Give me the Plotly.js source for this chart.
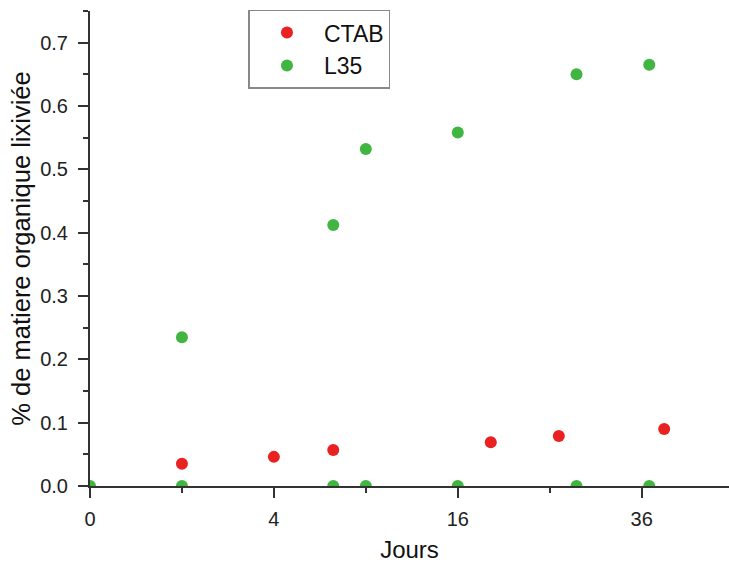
<!DOCTYPE html>
<html>
<head>
<meta charset="utf-8">
<script src="https://cdn.plot.ly/plotly-3.0.1.min.js"></script>
<style>html,body{margin:0;padding:0;background:#fff;}#chart{width:729px;height:563px;}</style>
</head>
<body>
<div id="chart"></div>
<script>
// Data (days, % leached organic matter)
const ctabDays = [1, 4, 7, 19, 26, 39];
const ctabValues = [0.035, 0.046, 0.057, 0.069, 0.079, 0.090];
const l35Days = [0, 1, 1, 7, 7, 9, 9, 16, 16, 28, 28, 37, 37];
const l35Values = [0, 0, 0.235, 0, 0.412, 0, 0.532, 0, 0.558, 0, 0.650, 0, 0.665];
const xTickDays = [0, 4, 16, 36];
const xMinorDays = [1, 9, 25];

// square-root day scale for the x axis
const sq = d => Math.sqrt(d);

const font = "Liberation Sans, Arial, sans-serif";
const traces = [
  {x: ctabDays.map(sq), y: ctabValues, name: 'CTAB', type: 'scatter', mode: 'markers',
   marker: {color: '#ea2121', size: 12}},
  {x: l35Days.map(sq), y: l35Values, name: 'L35', type: 'scatter', mode: 'markers',
   marker: {color: '#41b541', size: 12}}
];
const layout = {
  width: 729, height: 563,
  margin: {l: 90, r: 0, t: 11, b: 77},
  paper_bgcolor: '#fff', plot_bgcolor: '#fff',
  font: {family: font, size: 20, color: '#222'},
  showlegend: true,
  legend: {x: 0.248, y: 1.003, xanchor: 'left', yanchor: 'top', bgcolor: '#fff',
           bordercolor: '#888', borderwidth: 1.5, itemwidth: 64,
           font: {family: font, size: 23, color: '#111'}},
  xaxis: {range: [0, 6.95], showgrid: false, zeroline: false, showline: true,
          linecolor: '#333', linewidth: 2, ticks: 'outside', ticklen: 10, tickwidth: 2,
          tickcolor: '#333', tickmode: 'array', tickvals: xTickDays.map(sq),
          ticktext: xTickDays.map(String), ticklabelstandoff: 4,
          minor: {tickvals: xMinorDays.map(sq), ticks: 'outside', ticklen: 5, tickwidth: 2, tickcolor: '#333'},
          title: {text: 'Jours', font: {size: 24, color: '#111'}, standoff: 12}},
  yaxis: {range: [0, 0.75], showgrid: false, zeroline: false, showline: true,
          linecolor: '#333', linewidth: 2, ticks: 'outside', ticklen: 10, tickwidth: 2,
          tickcolor: '#333', dtick: 0.1, tick0: 0, tickformat: '.1f', ticklabelstandoff: 6,
          minor: {dtick: 0.05, tick0: 0, ticks: 'outside', ticklen: 5, tickwidth: 2, tickcolor: '#333'},
          title: {text: '% de matiere organique lixiviée', font: {size: 25.5, color: '#111'}, standoff: 2}}
};
Plotly.newPlot('chart', traces, layout, {displayModeBar: false, staticPlot: true});
</script>
</body>
</html>
